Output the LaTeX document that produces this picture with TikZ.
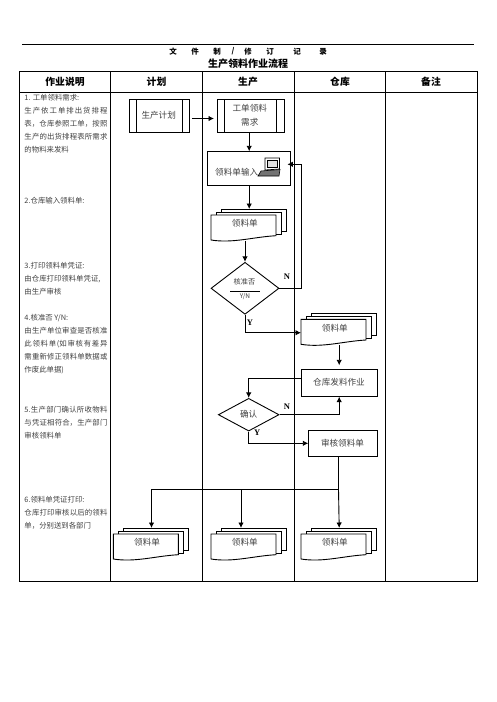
\documentclass[tikz,border=0pt]{standalone}
\usepackage{fontspec}
\setmainfont{Noto Sans CJK SC}
\newfontfamily\flagfont{Liberation Serif}
\usetikzlibrary{shapes.geometric,arrows.meta}
\XeTeXlinebreaklocale "zh"
\XeTeXlinebreakskip=0pt plus 1pt
\tikzset{
  head/.style={font=\fontsize{9.8}{11}\selectfont\bfseries},
  rowhead/.style={inner sep=0pt,font=\fontsize{7.5}{9}\selectfont\bfseries},
  note/.style={anchor=north west,inner sep=0pt,text width=83pt,align=justify,text=black!75,font=\fontsize{7.4}{13}\selectfont},
  boxtext/.style={text=black!75,font=\fontsize{8.6}{13.6}\selectfont,align=center},
  workbox/.style={draw,inner sep=0pt,anchor=north west},
  decision/.style={draw,diamond,aspect=1,inner sep=0pt},
  flag/.style={inner sep=0pt,font=\fontsize{8.5}{9}\selectfont\flagfont\bfseries},
  stack/.style={inner sep=0pt,minimum width=75.5pt,minimum height=31pt,anchor=north west}
}
\newcommand{\docstack}[2]{
  \node[stack] (#1) at (#2) {};
  \begin{scope}[shift={(#1.north west)}]
    \draw (10,3) -- (10,0) -- (75.5,0) -- (75.5,22.5) -- (70.5,22.5);
    \draw (5,6) -- (5,3) -- (70.5,3) -- (70.5,25.5) -- (65,25.5);
    \draw (0,6) -- (65,6) -- (65,26.7) .. controls (42,28) and (22,34.5) .. (0,31) -- cycle;
    \node[boxtext] (#1 text) at (33.8,14.6) {领料单};
  \end{scope}
}
\begin{document}
\begin{tikzpicture}[x=1pt,y=-1pt,>={Latex[length=5.5pt,width=5.5pt]},line width=0.9pt]
  \useasboundingbox (0,0) rectangle (496,702);

  \draw (22,44.5) -- (474,44.5);
  \foreach \x/\t in {173/文,195/件,217/制,248/修,270/订,297/记,323/录}
    \node[rowhead] at (\x,51.5) {\t};
  \node[rowhead] (slash) at (233,51.5) {/};
  \node[inner sep=0pt,font=\fontsize{10}{12}\selectfont\bfseries] (title) at (248,64) {生产领料作业流程};

  \draw (19.5,71.3) rectangle (477.5,581.3);
  \draw (19.5,92.3) -- (477.5,92.3);
  \foreach \x in {110.5,202.5,294.5,385.5}
    \draw (\x,71.3) -- (\x,581.3);
  \node[head] (h1) at (65,81.5) {作业说明};
  \node[head] (h2) at (156.5,81.5) {计划};
  \node[head] (h3) at (248,81.5) {生产};
  \node[head] (h4) at (340,81.5) {仓库};
  \node[head] (h5) at (431,81.5) {备注};

  \node[note] (n1) at (24,93.5) {1. 工单领料需求:\\生产依工单排出货排程\linebreak 表，仓库参照工单，按照\linebreak 生产的出货排程表所需求\linebreak 的物料来发料};
  \node[note] (n2) at (24,197) {2.仓库输入领料单:};
  \node[note] (n3) at (24,262) {3.打印领料单凭证:\\由仓库打印领料单凭证,\\由生产审核};
  \node[note] (n4) at (24,314) {4.核准否 Y/N:\\由生产单位审查是否核准\linebreak 此领料单(如审核有差异\linebreak 需重新修正领料单数据或\linebreak 作废此单据)};
  \node[note] (n5) at (24,405.4) {5.生产部门确认所收物料\linebreak 与凭证相符合，生产部门\linebreak 审核领料单};
  \node[note] (n6) at (24,496) {6.领料单凭证打印:\\仓库打印审核以后的领料\linebreak 单，分别送到各部门};

  \node[workbox,minimum width=60pt,minimum height=32.5pt] (plan) at (128.5,99.3) {};
  \node[boxtext] (plantext) at (158.7,115) {生产计划};
  \draw ([xshift=8pt]plan.north west) -- ([xshift=8pt]plan.south west);
  \draw ([xshift=-7pt]plan.north east) -- ([xshift=-7pt]plan.south east);
  \node[workbox,minimum width=67pt,minimum height=32.7pt] (need) at (216.5,99.3) {};
  \node[boxtext] (needtext) at (249.8,115.5) {工单领料\\需求};
  \draw ([xshift=8pt]need.north west) -- ([xshift=8pt]need.south west);
  \draw ([xshift=-8pt]need.north east) -- ([xshift=-8pt]need.south east);

  \node[workbox,minimum width=83pt,minimum height=33.4pt] (input) at (206.5,151.3) {};
  \node[boxtext] (inputtext) at (236.7,172.7) {领料单输入};
  \draw[fill=white,line width=0.7pt] (265,158) -- (279.5,158) -- (279.5,169) -- (265,170) -- cycle;
  \draw[fill=black!12,line width=0.6pt] (267,160) rectangle (277,167);
  \draw[fill=black!55,line width=0.6pt] (261,171) -- (280,169.5) -- (279,176) -- (258,176) -- cycle;

  \docstack{doc1}{211,209}
  \node[decision,minimum width=68pt,minimum height=52pt] (check) at (245,288.3) {};
  \node[inner sep=0pt,text=black!75,font=\fontsize{7.2}{9}\selectfont] (checktext) at (244.5,282) {核准否};
  \node[inner sep=0pt,text=black!75,font=\fontsize{6.5}{8}\selectfont] (yn) at (245,296.8) {Y/N};
  \draw[line width=0.7pt] (230,291.3) -- (260,291.3);

  \docstack{doc2}{301,313.3}
  \node[workbox,minimum width=75.4pt,minimum height=26.4pt] (issue) at (301.3,369.3) {};
  \node[boxtext] (issuetext) at (339,382.5) {仓库发料作业};
  \node[decision,minimum width=60.7pt,minimum height=32.7pt] (confirm) at (248.7,414.7) {};
  \node[boxtext] (confirmtext) at (248.7,414) {确认};
  \node[workbox,minimum width=68.4pt,minimum height=26pt] (audit) at (308.3,430.3) {};
  \node[boxtext] (audittext) at (342.5,443.3) {审核领料单};

  \docstack{doc3}{113.3,528}
  \docstack{doc4}{211,528}
  \docstack{doc5}{301,528}

  \node[flag] (f1) at (287,276.7) {N};
  \node[flag] (f2) at (250,322.7) {Y};
  \node[flag] (f3) at (287,406.7) {N};
  \node[flag] (f4) at (257.3,433) {Y};

  \coordinate (loop) at (301,164.3);
  \coordinate (bus) at (338.5,489.3);

  \draw[->,shorten >=2.5pt,shorten <=2.5pt] ([yshift=-2.5pt]plan.east) -- ([yshift=-2.5pt]plan.east -| need.west);
  \draw[->] (need.south -| doc1.north) -- (input.north -| doc1.north);
  \draw[->] (input.south -| doc1.north) -- (doc1.north);
  \draw[->] (doc1.south -| check.north) -- (check.north);
  \draw[->,shorten >=-3pt] (check.east) -| (loop) -- (loop -| input.east);
  \draw[->] (check.south) |- (doc2.west |- 0,332.7);
  \draw[->,shorten >=4pt] (doc2.south) -- (doc2.south |- issue.north);
  \draw[->] (issue.west |- 0,378.3) -| (confirm.north);
  \draw[->] (confirm.east) -| (doc2.south |- issue.south);
  \draw[->] (confirm.south) |- (audit.west |- 0,443.3);
  \draw (audit.south -| bus) -- (bus);
  \draw[->] (bus) -- (doc5.north);
  \draw[->] (bus) -| (doc3.north);
  \draw[->] (241,489.3) -- (241,528);
\end{tikzpicture}
\end{document}
